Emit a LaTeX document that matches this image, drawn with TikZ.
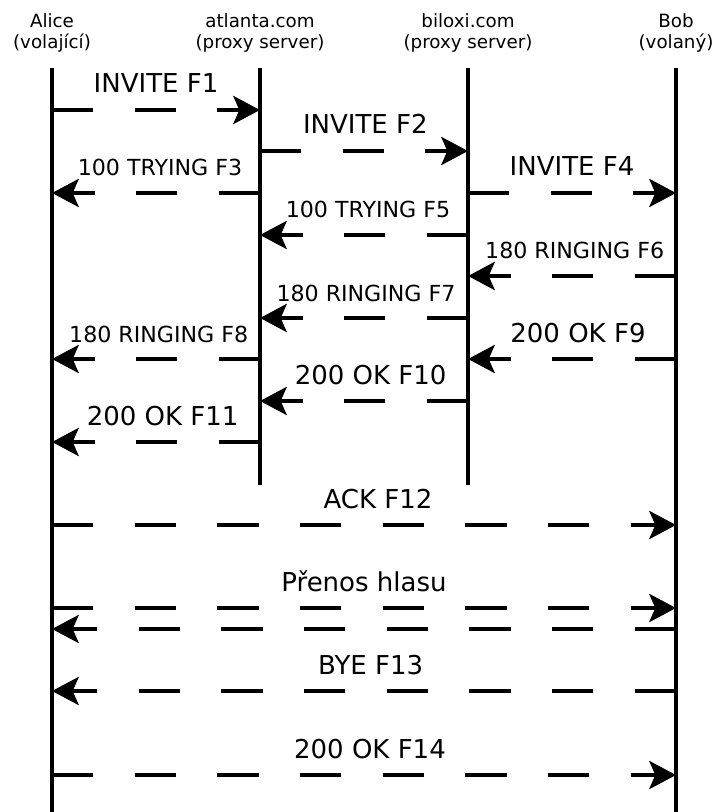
\documentclass[tikz,border=0pt]{standalone}
\usepackage{fontspec}
\setmainfont{DejaVu Sans}
\usetikzlibrary{arrows.meta}
\newcommand\headfont{\fontsize{13.7}{15.75}\selectfont}
\newcommand\bigfont{\fontsize{19.5}{22}\selectfont}
\newcommand\smallfont{\fontsize{16.6}{19}\selectfont}
\tikzset{
  head/.style={align=center,inner sep=0pt,font=\headfont},
  life/.style={line width=3.4pt},
  msg/.style={line width=3.2pt,dash pattern=on 31pt off 31pt,
    -{Stealth[length=20pt,width=21pt,inset=4.5pt]}},
  lbl/.style={midway,anchor=base,yshift=12.75pt,inner sep=0pt,font=\bigfont},
  slbl/.style={lbl,font=\smallfont}
}
\begin{document}
\begin{tikzpicture}[x=0.75pt,y=-0.75pt]
\useasboundingbox (0,0) rectangle (715,812);
\node[head] (alice) at (52,33) {Alice\\(volající)};
\node[head] (atlanta) at (260,33) {atlanta.com\\(proxy server)};
\node[head] (biloxi) at (468,33) {biloxi.com\\(proxy server)};
\node[head] (bob) at (676,33) {Bob\\(volaný)};
\coordinate (aliceL) at (52,68);
\coordinate (atlantaL) at (260,68);
\coordinate (biloxiL) at (468,68);
\coordinate (bobL) at (676,68);
\draw[life] (aliceL) -- (aliceL |- 0,812);
\draw[life] (atlantaL) -- (atlantaL |- 0,485);
\draw[life] (biloxiL) -- (biloxiL |- 0,485);
\draw[life] (bobL) -- (bobL |- 0,812);
\draw[msg] (aliceL |- 0,110) -- (atlantaL |- 0,110) node[lbl] (f1) {INVITE F1};
\draw[msg] (atlantaL |- 0,151) -- (biloxiL |- 0,151) node[lbl,xshift=1] (f2) {INVITE F2};
\draw[msg] (atlantaL |- 0,193) -- (aliceL |- 0,193) node[slbl,xshift=3pt] (f3) {100 TRYING F3};
\draw[msg] (biloxiL |- 0,193) -- (bobL |- 0,193) node[lbl] (f4) {INVITE F4};
\draw[msg] (biloxiL |- 0,235) -- (atlantaL |- 0,235) node[slbl,xshift=3pt] (f5) {100 TRYING F5};
\draw[msg] (bobL |- 0,276) -- (biloxiL |- 0,276) node[slbl,xshift=2pt] (f6) {180 RINGING F6};
\draw[msg] (biloxiL |- 0,318) -- (atlantaL |- 0,318) node[slbl,xshift=1.5pt] (f7) {180 RINGING F7};
\draw[msg] (atlantaL |- 0,359) -- (aliceL |- 0,359) node[slbl,xshift=2pt] (f8) {180 RINGING F8};
\draw[msg] (bobL |- 0,359) -- (biloxiL |- 0,359) node[lbl,xshift=4.5pt] (f9) {200 OK F9};
\draw[msg] (biloxiL |- 0,401) -- (atlantaL |- 0,401) node[lbl,xshift=5pt] (f10) {200 OK F10};
\draw[msg] (atlantaL |- 0,442) -- (aliceL |- 0,442) node[lbl,xshift=5pt] (f11) {200 OK F11};
\draw[msg] (aliceL |- 0,525) -- (bobL |- 0,525) node[lbl,xshift=10.5pt] (f12) {ACK F12};
\draw[msg] (aliceL |- 0,608) -- (bobL |- 0,608) node[lbl] (voice) {Přenos hlasu};
\draw[msg] (bobL |- 0,629) -- (aliceL |- 0,629);
\draw[msg] (bobL |- 0,691) -- (aliceL |- 0,691) node[lbl,xshift=5pt] (f13) {BYE F13};
\draw[msg] (aliceL |- 0,775) -- (bobL |- 0,775) node[lbl,xshift=4.5pt] (f14) {200 OK F14};
\end{tikzpicture}
\end{document}
